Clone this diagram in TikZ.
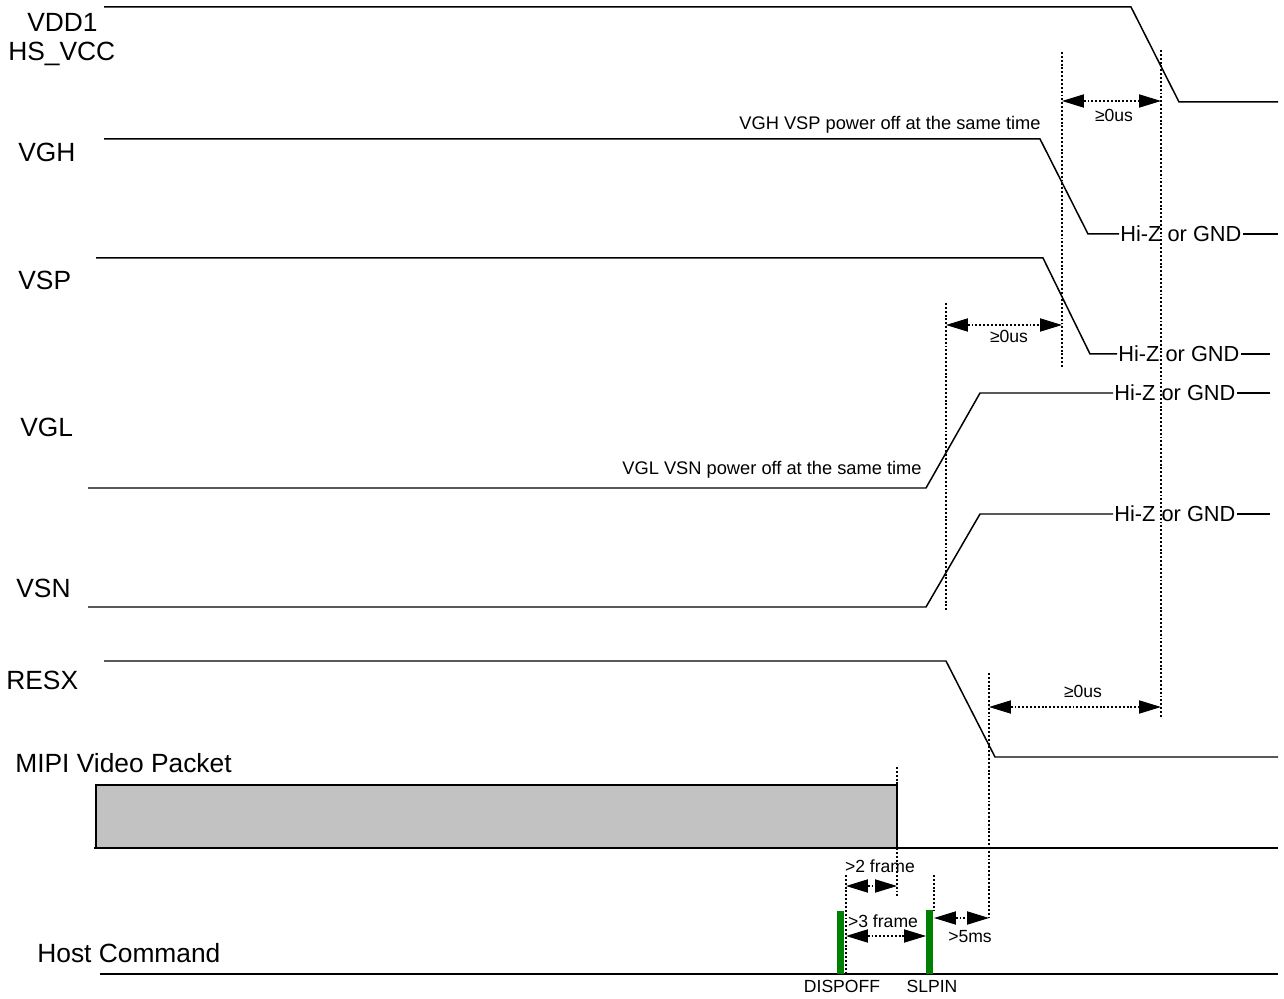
\documentclass[tikz,border=0pt]{standalone}
\usepackage{fontspec}
\setmainfont{Liberation Sans}
\usetikzlibrary{arrows.meta}
\definecolor{barGreen}{RGB}{0,128,0}
\tikzset{
  sig/.style={line width=0.85pt, line join=miter},
  guide/.style={line width=0.7pt, dash pattern=on 1.1pt off 1.1pt},
  dimarrow/.style={line width=0.7pt, dash pattern=on 1.1pt off 1.1pt,
     {Triangle[length=12.5pt,width=7.5pt]}-{Triangle[length=12.5pt,width=7.5pt]}},
  siglabel/.style={anchor=base west, inner sep=0pt, font=\fontsize{15}{18}\selectfont},
  hiz/.style={anchor=west, inner sep=0.6pt, font=\fontsize{12.4}{14}\selectfont},
  note/.style={anchor=base east, inner sep=0pt, font=\fontsize{10.4}{12}\selectfont},
  dimtext/.style={anchor=base, inner sep=0pt, font=\fontsize{10}{12}\selectfont},
  cmdbar/.style={fill=barGreen, draw=none},
  packet/.style={draw, line width=0.85pt, fill=black!24},
}
\begin{document}
\begin{tikzpicture}[x=0.02cm, y=-0.02cm]
\useasboundingbox (0,0) rectangle (1284,999);

% ---- signal labels
\node[siglabel] (lvdd) at (27,32) {VDD1};
\node[siglabel] (lhs) at (8,61) {HS\_VCC};
\node[siglabel] (lvgh) at (18,162) {VGH};
\node[siglabel] (lvsp) at (18,290) {VSP};
\node[siglabel] (lvgl) at (20,437) {VGL};
\node[siglabel] (lvsn) at (16,598) {VSN};
\node[siglabel] (lresx) at (6,689) {RESX};
\node[siglabel] (lmipi) at (15,772) {MIPI Video Packet};
\node[siglabel] (lhost) at (37,962) {Host Command};

% ---- VDD1 / HS_VCC
\coordinate (vdd0) at (104,7);
\coordinate (vdd1) at (1131,7);
\coordinate (vdd2) at (1179,102);
\coordinate (vdd3) at (1278,102);
\draw[sig] (vdd0) -- (vdd1) -- (vdd2) -- (vdd3);

% ---- VGH
\coordinate (vgh0) at (104,139);
\coordinate (vgh1) at (1040,139);
\coordinate (vgh2) at (1088,234);
\coordinate (vgh3) at (1278,234);
\node[hiz] (hzvgh) at (1119,234) {Hi-Z or GND};
\draw[sig] (vgh0) -- (vgh1) -- (vgh2) -- (hzvgh.west);
\draw[sig] (hzvgh.east) -- (vgh3);
\node[note] (nvgh) at (1041,130) {VGH VSP power off at the same time};

% ---- VSP
\coordinate (vsp0) at (96,258);
\coordinate (vsp1) at (1043,258);
\coordinate (vsp2) at (1090,354);
\coordinate (vsp3) at (1270,354);
\node[hiz] (hzvsp) at (1117,354) {Hi-Z or GND};
\draw[sig] (vsp0) -- (vsp1) -- (vsp2) -- (hzvsp.west);
\draw[sig] (hzvsp.east) -- (vsp3);

% ---- VGL
\coordinate (vgl0) at (88,488);
\coordinate (vgl1) at (926,488);
\coordinate (vgl2) at (980,393);
\coordinate (vgl3) at (1270,393);
\node[hiz] (hzvgl) at (1113,393) {Hi-Z or GND};
\draw[sig] (vgl0) -- (vgl1) -- (vgl2) -- (hzvgl.west);
\draw[sig] (hzvgl.east) -- (vgl3);
\node[note] (nvgl) at (922,475) {VGL VSN power off at the same time};

% ---- VSN
\coordinate (vsn0) at (88,607);
\coordinate (vsn1) at (926,607);
\coordinate (vsn2) at (980,514);
\coordinate (vsn3) at (1270,514);
\node[hiz] (hzvsn) at (1113,514) {Hi-Z or GND};
\draw[sig] (vsn0) -- (vsn1) -- (vsn2) -- (hzvsn.west);
\draw[sig] (hzvsn.east) -- (vsn3);

% ---- RESX
\coordinate (rs0) at (104,661);
\coordinate (rs1) at (946,661);
\coordinate (rs2) at (995,757);
\coordinate (rs3) at (1278,757);
\draw[sig] (rs0) -- (rs1) -- (rs2) -- (rs3);

% ---- MIPI video packet
\draw[packet] (96,848) |- (897,785) -- (897,848);
\coordinate (mp0) at (94,848);
\coordinate (mp1) at (1278,848);
\draw[sig] (mp0) -- (mp1);

% ---- Host command
\coordinate (hc0) at (100,974);
\coordinate (hc1) at (1278,974);
\draw[sig] (hc0) -- (hc1);
\fill[cmdbar] (837,911) rectangle (844,974);
\fill[cmdbar] (926,910) rectangle (933,974);
\node[dimtext] (tdoff) at (842,992) {DISPOFF};
\node[dimtext] (tslp) at (932,992) {SLPIN};

% ---- guide lines
\coordinate (g1a) at (1062,52);   \coordinate (g1b) at (1062,368);
\coordinate (g2a) at (1161,50);   \coordinate (g2b) at (1161,717);
\coordinate (g3a) at (946,303);   \coordinate (g3b) at (946,610);
\coordinate (g4a) at (989,673);   \coordinate (g4b) at (989,918);
\coordinate (g5a) at (897,767);   \coordinate (g5b) at (897,896);
\coordinate (g6a) at (846,875);   \coordinate (g6b) at (846,974);
\coordinate (g7a) at (934,875);   \coordinate (g7b) at (934,910);
\draw[guide] (g1a) -- (g1b);
\draw[guide] (g2a) -- (g2b);
\draw[guide] (g3a) -- (g3b);
\draw[guide] (g4a) -- (g4b);
\draw[guide] (g5a) -- (897,785);
\draw[guide] (897,848) -- (g5b);
\draw[guide] (g6a) -- (g6b);
\draw[guide] (g7a) -- (g7b);

% ---- dimension arrows
\coordinate (a1l) at (1062,101); \coordinate (a1r) at (1161,101);
\draw[dimarrow] (a1l) -- (a1r);
\node[dimtext] (t1) at (1114,122) {≥0us};

\coordinate (a2l) at (946,325); \coordinate (a2r) at (1062,325);
\draw[dimarrow] (a2l) -- (a2r);
\node[dimtext] (t2) at (1009,343) {≥0us};

\coordinate (a3l) at (989,707); \coordinate (a3r) at (1161,707);
\draw[dimarrow] (a3l) -- (a3r);
\node[dimtext] (t3) at (1083,697) {≥0us};

\coordinate (a4l) at (846,886); \coordinate (a4r) at (897,886);
\draw[dimarrow] (a4l) -- (a4r);
\node[dimtext] (t4) at (880,872) {>2 frame};

\coordinate (a5l) at (846,936); \coordinate (a5r) at (926,936);
\draw[dimarrow] (a5l) -- (a5r);
\node[dimtext] (t5) at (883,927) {>3 frame};

\coordinate (a6l) at (934,918); \coordinate (a6r) at (989,918);
\draw[dimarrow] (a6l) -- (a6r);
\node[dimtext] (t6) at (970,942) {>5ms};
\end{tikzpicture}
\end{document}
